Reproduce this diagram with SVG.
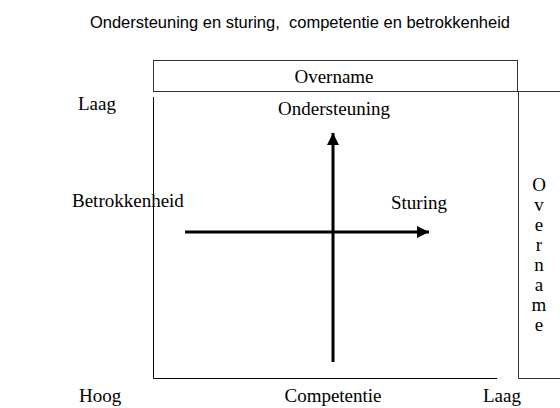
<svg xmlns="http://www.w3.org/2000/svg" width="560" height="408" viewBox="0 0 560 408">
<defs>
<style>
.s{font-family:"Liberation Serif","Times New Roman",serif;font-size:19px;fill:#000}
.t{font-family:"Liberation Sans",Arial,sans-serif;font-size:16.5px;fill:#000}
.box{fill:none;stroke:#333;stroke-width:1}
.ax{stroke:#000;stroke-width:3;fill:none}
</style>
<marker id="ah" viewBox="0 0 10 10" refX="10" refY="5" markerWidth="4" markerHeight="4" orient="auto" markerUnits="strokeWidth">
<path d="M0,0 L10,5 L0,10 z" fill="#000"/>
</marker>
</defs>
<rect width="560" height="408" fill="#fff"/>
<text class="t" x="300" y="28" text-anchor="middle" xml:space="preserve">Ondersteuning en sturing,  competentie en betrokkenheid</text>
<g id="overname-top">
<rect class="box" x="153.5" y="60.5" width="364" height="31"/>
<text class="s" x="334" y="83" text-anchor="middle">Overname</text>
</g>
<g id="overname-right">
<path class="box" d="M517.5 91.5 H560 M518.5 91.5 V378.5 H560"/>
<text class="s" x="539" text-anchor="middle"><tspan x="539" y="191">O</tspan><tspan x="539" y="211">v</tspan><tspan x="539" y="231">e</tspan><tspan x="539" y="251">r</tspan><tspan x="539" y="271">n</tspan><tspan x="539" y="291">a</tspan><tspan x="539" y="311">m</tspan><tspan x="539" y="331">e</tspan></text>
</g>
<g id="frame">
<path d="M153.5 97 V378.5 H497" fill="none" stroke="#000" stroke-width="1"/>
</g>
<g id="labels">
<text class="s" x="78" y="110">Laag</text>
<text class="s" x="334" y="115" text-anchor="middle">Ondersteuning</text>
<text class="s" x="72" y="207">Betrokkenheid</text>
<text class="s" x="391" y="209">Sturing</text>
<text class="s" x="79" y="402">Hoog</text>
<text class="s" x="333" y="402" text-anchor="middle">Competentie</text>
<text class="s" x="483" y="402">Laag</text>
</g>
<g id="connectors">
<line class="ax" x1="333" y1="362" x2="333" y2="133" marker-end="url(#ah)"/>
<line class="ax" x1="185" y1="232" x2="429" y2="232" marker-end="url(#ah)"/>
</g>
</svg>
